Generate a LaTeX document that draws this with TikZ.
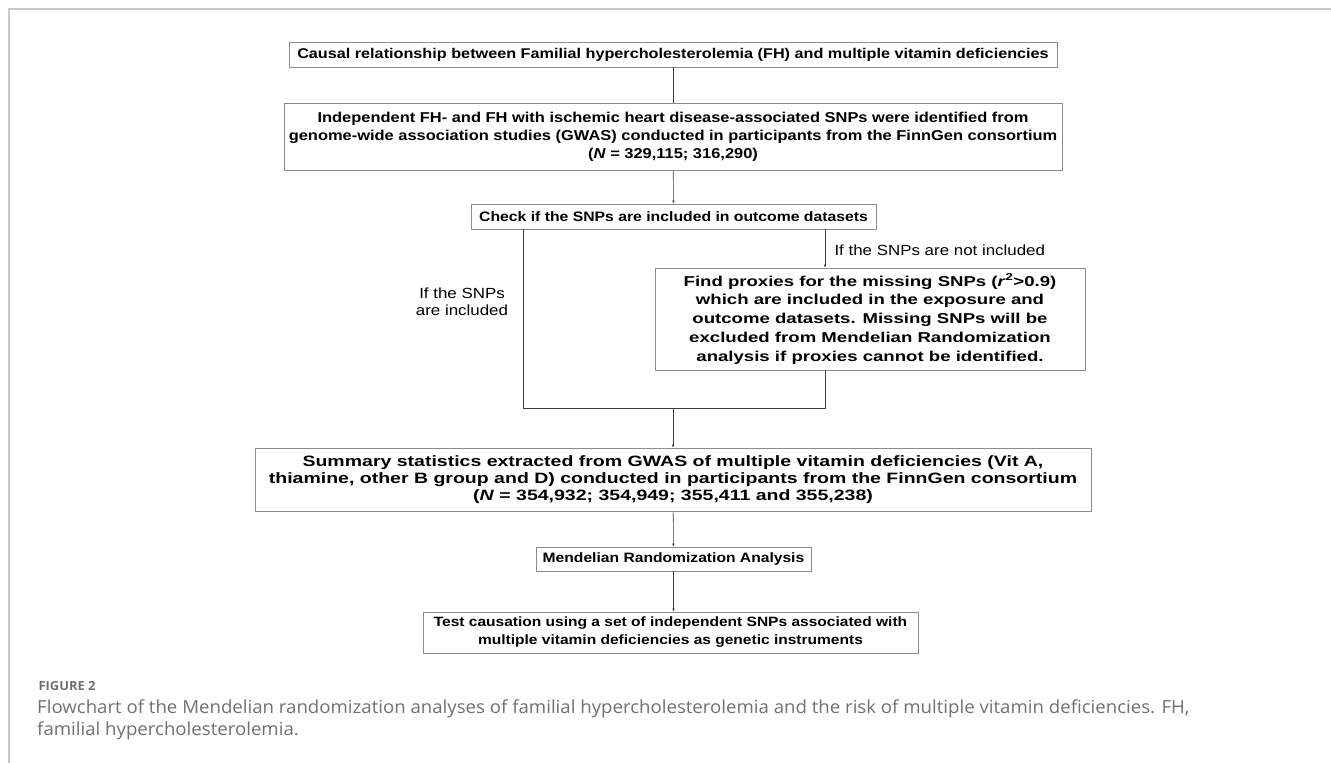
\documentclass[tikz,border=0pt]{standalone}
\usepackage{fontspec}
\setmainfont{Liberation Sans}
\newfontfamily\boxfont[FakeStretch=1.15]{Liberation Sans}
\newfontfamily\wideboxfont[FakeStretch=1.3]{Liberation Sans}
\newfontfamily\capfont[FakeStretch=1.035]{Open Sans}
\usetikzlibrary{arrows.meta,positioning,calc}
\definecolor{boxGray}{HTML}{8C8C8C}
\definecolor{lineGray}{HTML}{3C3C3C}
\definecolor{frameGray}{HTML}{C8C8C8}
\definecolor{capGray}{HTML}{707070}
\newcommand{\boxsize}[2]{\fontsize{#1}{#2}\selectfont}

\begin{document}
\begin{tikzpicture}[
    x=1pt,y=-1pt,
    >={Latex[length=3pt,width=2.6pt]},
    stepbox/.style={draw=boxGray,line width=0.9pt,fill=white,align=center,inner sep=0pt,
      font=\boxfont\bfseries\boxsize{13.7}{18}},
    flow/.style={draw=lineGray,line width=0.55pt},
    note/.style={font=\boxfont\boxsize{14.7}{17},align=center}
  ]
  \useasboundingbox (0,0) rectangle (1331,763);
  %% page frame
  \draw[frameGray,line width=1.2pt] (9,763) -- (9,9) -- (1331,9);

  %% boxes of the flow
  \node[stepbox,minimum width=768,minimum height=25,font=\boxfont\bfseries\boxsize{14.1}{18}] (causal) at (673,54.5)
    {Causal relationship between Familial hypercholesterolemia (FH) and multiple vitamin deficiencies};
  \node[stepbox,minimum width=778,minimum height=67,font=\boxfont\bfseries\boxsize{14.3}{18}] (gwas) at (673,136.5)
    {Independent FH- and FH with ischemic heart disease-associated SNPs were identified from\\
     genome-wide association studies (GWAS) conducted in participants from the FinnGen consortium\\
     (\textit{N} = 329,115; 316,290)};
  \node[stepbox,minimum width=405,minimum height=25] (check) at (673.5,216.5)
    {Check if the SNPs are included in outcome datasets};
  \node[stepbox,minimum width=430,minimum height=102,font=\wideboxfont\bfseries\boxsize{14.3}{18.8}] (proxy) at (870,319)
    {Find proxies for the missing SNPs (\textit{r}\textsuperscript{2}>0.9)\\
     which are included in the exposure and\\
     outcome datasets. Missing SNPs will be\\
     excluded from Mendelian Randomization\\
     analysis if proxies cannot be identified.};
  \node[stepbox,minimum width=836,minimum height=63,font=\wideboxfont\bfseries\boxsize{15}{17}] (summary) at (673,479.5)
    {Summary statistics extracted from GWAS of multiple vitamin deficiencies (Vit A,\\
     thiamine, other B group and D) conducted in participants from the FinnGen consortium\\
     (\textit{N} = 354,932; 354,949; 355,411 and 355,238)};
  \node[stepbox,minimum width=275,minimum height=24,font=\boxfont\bfseries\boxsize{13.6}{18}] (mra) at (673.5,559)
    {Mendelian Randomization Analysis};
  \node[stepbox,minimum width=495,minimum height=41,font=\boxfont\bfseries\boxsize{13.5}{18}] (test) at (670.5,632.5)
    {Test causation using a set of independent SNPs associated with\\
     multiple vitamin deficiencies as genetic instruments};

  %% branch labels
  \node[note,anchor=west] (notinc) at (831,250) {If the SNPs are not included};
  \node[note] (inc) at (462,302) {If the SNPs\\are included};

  %% connectors
  \coordinate (incL) at (523,408);
  \coordinate (incR) at (825,408);
  \coordinate (merge) at (673,408);
  \draw[flow] (causal) -- (gwas);
  \draw[flow,->] (gwas) -- (check);
  \draw[flow,->] (check.south -| incR) -- (proxy.north -| incR);
  \draw[flow] (check.south -| incL) -- (incL) -- (incR) -- (proxy.south -| incR);
  \draw[flow,->] (merge) -- (summary);
  \draw[flow,->] (summary) -- (mra);
  \draw[flow,->] (mra.south) -- (mra.south |- test.north);

  %% caption
  \node[anchor=west,text=capGray,font=\capfont\bfseries\boxsize{12.5}{15}] (figlab) at (35,686)
    {FIGURE 2};
  \node[anchor=north west,text=capGray,align=left,font=\capfont\boxsize{18}{22}\selectfont,inner sep=0pt] (caption) at (37,700)
    {Flowchart of the Mendelian randomization analyses of familial hypercholesterolemia and the risk of multiple vitamin deficiencies. FH,\\
     familial hypercholesterolemia.};
\end{tikzpicture}
\end{document}
